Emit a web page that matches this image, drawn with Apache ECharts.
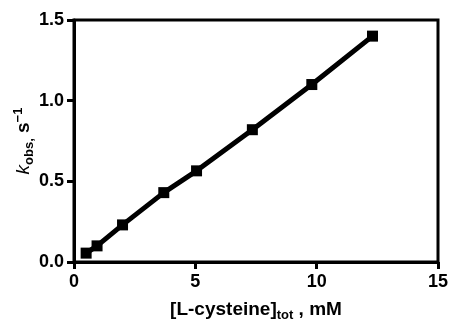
<!DOCTYPE html>
<html>
<head>
<meta charset="utf-8">
<script src="https://cdn.jsdelivr.net/npm/echarts@6/dist/echarts.min.js"></script>
<style>
  html, body { margin: 0; padding: 0; background: #fff; }
  #chart { width: 450px; height: 320px; }
</style>
</head>
<body>
<div id="chart"></div>
<script>
// L-cysteine concentration (mM) and observed rate constant (s^-1)
const cysteine = [0.5, 0.95, 2.0, 3.7, 5.05, 7.35, 9.8, 12.3];
const kObs = [0.055, 0.1, 0.23, 0.43, 0.565, 0.82, 1.1, 1.4];

const xTicks = [0, 5, 10, 15];
const yTicks = [0, 0.5, 1.0, 1.5];

const chart = echarts.init(document.getElementById("chart"));
const font = "Liberation Sans, Arial, sans-serif";

chart.setOption({
  animation: false,
  grid: {
    left: 74,
    right: 12,
    top: 20,
    bottom: 58,
    outerBoundsMode: "none",
    show: true,
    borderColor: "#000",
    borderWidth: 3,
  },
  xAxis: {
    type: "value",
    min: xTicks[0],
    max: xTicks[xTicks.length - 1],
    interval: 5,
    axisLine: { lineStyle: { color: "#000", width: 3 } },
    axisTick: { length: 7, lineStyle: { color: "#000", width: 3 } },
    axisLabel: {
      color: "#000",
      fontFamily: font,
      fontWeight: "bold",
      fontSize: 18,
      margin: 11,
      formatter: (v) => String(v),
    },
    splitLine: { show: false },
    name: "{b|[L-cysteine]}{sub|tot}{b| , mM}",
    nameLocation: "middle",
    nameGap: 36,
    nameTextStyle: {
      rich: {
        b: { fontFamily: font, fontWeight: "bold", fontSize: 19, color: "#000" },
        sub: { fontFamily: font, fontWeight: "bold", fontSize: 13, color: "#000", padding: [11, 0, 0, 0] },
      },
    },
  },
  yAxis: {
    type: "value",
    min: yTicks[0],
    max: yTicks[yTicks.length - 1],
    interval: 0.5,
    axisLine: { lineStyle: { color: "#000", width: 3 } },
    axisTick: { length: 7, lineStyle: { color: "#000", width: 3 } },
    axisLabel: {
      color: "#000",
      fontFamily: font,
      fontWeight: "bold",
      fontSize: 18,
      margin: 10,
      formatter: (v) => v.toFixed(1),
    },
    splitLine: { show: false },
    name: "{k|k}{sub|obs,}{b| s}{sup|−1}",
    nameLocation: "middle",
    nameMoveOverlap: false,
    nameGap: 38,
    nameTextStyle: {
      rich: {
        k: { fontFamily: font, fontStyle: "italic", fontSize: 19, color: "#000" },
        sub: { fontFamily: font, fontWeight: "bold", fontSize: 13, color: "#000", padding: [11, 0, 0, 0] },
        b: { fontFamily: font, fontWeight: "bold", fontSize: 19, color: "#000" },
        sup: { fontFamily: font, fontWeight: "bold", fontSize: 13, color: "#000", padding: [0, 0, 11, 0] },
      },
    },
  },
  series: [
    {
      type: "line",
      data: cysteine.map((x, i) => [x, kObs[i]]),
      symbol: "rect",
      symbolSize: 11,
      lineStyle: { color: "#000", width: 5 },
      itemStyle: { color: "#000" },
    },
  ],
});
</script>
</body>
</html>
